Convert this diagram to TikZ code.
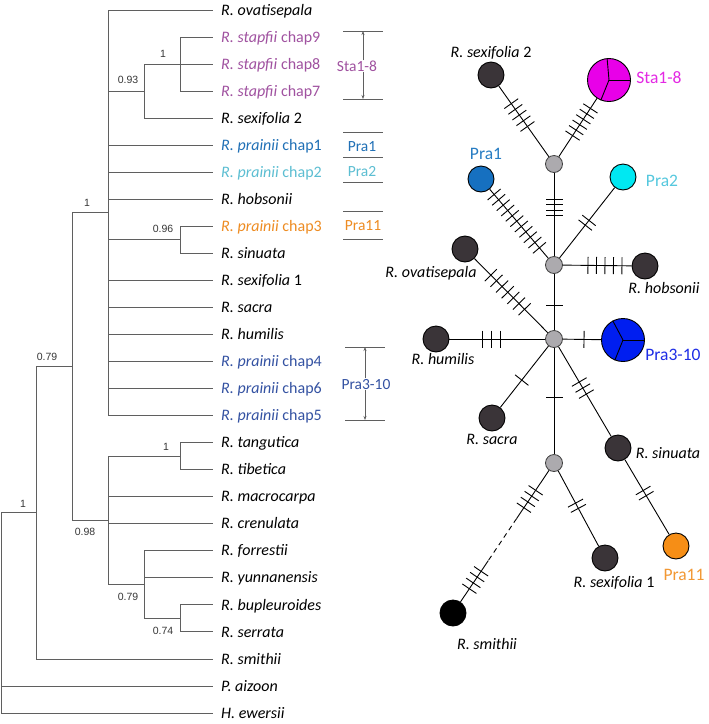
\documentclass[tikz,border=0pt]{standalone}
\usepackage{fontspec}
\setmainfont{Carlito}
\newfontfamily\suppfont{Liberation Sans}
\usetikzlibrary{calc,arrows.meta}
\definecolor{treegray}{RGB}{95,95,95}
\definecolor{suppgray}{RGB}{55,55,55}
\definecolor{stacol}{RGB}{160,82,160}
\definecolor{pone}{RGB}{32,112,182}
\definecolor{ptwo}{RGB}{92,190,210}
\definecolor{pthree}{RGB}{238,140,34}
\definecolor{pfour}{RGB}{52,82,162}
\definecolor{hapdark}{RGB}{58,52,56}
\definecolor{medgray}{RGB}{172,170,174}
\definecolor{stafill}{RGB}{232,0,232}
\definecolor{stalbl}{RGB}{228,40,228}
\definecolor{ponefill}{RGB}{22,112,192}
\definecolor{ponelbl}{RGB}{40,125,195}
\definecolor{ptwofill}{RGB}{0,232,242}
\definecolor{ptwolbl}{RGB}{85,200,222}
\definecolor{pbigfill}{RGB}{0,30,240}
\definecolor{pbiglbl}{RGB}{30,45,230}
\definecolor{pelevfill}{RGB}{246,142,22}
\definecolor{pelevlbl}{RGB}{242,152,52}
\newcommand\hashes[5]{%
  \coordinate (hc) at ($(#1)!#3!(#2)$);
  \foreach \k in {1,...,#4}{
    \pgfmathsetmacro\hoff{(\k-(#4+1)/2)*#5}
    \coordinate (ht) at ($(hc)!\hoff pt!(#2)$);
    \draw[tickline] ($(ht)!8.5pt!90:(#2)$) -- ($(ht)!8.5pt!-90:(#2)$);
  }%
}
\begin{document}
\begin{tikzpicture}[x=1pt,y=-1pt,
  leaf/.style={anchor=west,inner sep=0pt,font=\fontsize{16}{19}\selectfont,text height=10.8pt,text depth=0.5pt},
  branch/.style={draw=treegray,line width=0.9pt},
  supp/.style={font=\suppfont\fontsize{10.5}{12}\selectfont,text=suppgray,inner sep=0pt},
  brk/.style={draw=treegray,line width=0.9pt},
  brkarrow/.style={draw=treegray,line width=0.6pt,-{Stealth[length=4pt,width=3pt]}},
  brklbl/.style={inner sep=0pt,font=\fontsize{15.5}{18}\selectfont,text height=10.5pt,text depth=0.5pt},
  hap/.style={circle,draw=black,line width=0.9pt,fill=hapdark,minimum size=26pt,inner sep=0pt},
  med/.style={circle,draw=black!75,line width=0.8pt,fill=medgray,minimum size=17pt,inner sep=0pt},
  big/.style={hap,minimum size=43pt},
  edge/.style={draw=black,line width=0.9pt},
  tickline/.style={draw=black,line width=0.9pt},
  netlbl/.style={inner sep=0pt,font=\fontsize{16}{19}\selectfont,text height=10.8pt,text depth=0.5pt},
  grplbl/.style={inner sep=0pt,font=\fontsize{17.5}{20}\selectfont,text height=12pt,text depth=0.5pt}]
\useasboundingbox (0,0) rectangle (709,724);
\fill[white] (0,0) rectangle (709,724);
% ---------------- tree leaves
\node[leaf] (l0) at (221,10) {\textit{R. ovatisepala}};
\node[leaf,text=stacol] (l1) at (221,37.04) {\textit{R. stapfii} chap9};
\node[leaf,text=stacol] (l2) at (221,64.08) {\textit{R. stapfii} chap8};
\node[leaf,text=stacol] (l3) at (221,91.12) {\textit{R. stapfii} chap7};
\node[leaf] (l4) at (221,118.16) {\textit{R. sexifolia} 2};
\node[leaf,text=pone] (l5) at (221,145.2) {\textit{R. prainii} chap1};
\node[leaf,text=ptwo] (l6) at (221,172.24) {\textit{R. prainii} chap2};
\node[leaf] (l7) at (221,199.28) {\textit{R. hobsonii}};
\node[leaf,text=pthree] (l8) at (221,226.32) {\textit{R. prainii} chap3};
\node[leaf] (l9) at (221,253.36) {\textit{R. sinuata}};
\node[leaf] (l10) at (221,280.4) {\textit{R. sexifolia} 1};
\node[leaf] (l11) at (221,307.44) {\textit{R. sacra}};
\node[leaf] (l12) at (221,334.48) {\textit{R. humilis}};
\node[leaf,text=pfour] (l13) at (221,361.52) {\textit{R. prainii} chap4};
\node[leaf,text=pfour] (l14) at (221,388.56) {\textit{R. prainii} chap6};
\node[leaf,text=pfour] (l15) at (221,415.6) {\textit{R. prainii} chap5};
\node[leaf] (l16) at (221,442.64) {\textit{R. tangutica}};
\node[leaf] (l17) at (221,469.68) {\textit{R. tibetica}};
\node[leaf] (l18) at (221,496.72) {\textit{R. macrocarpa}};
\node[leaf] (l19) at (221,523.76) {\textit{R. crenulata}};
\node[leaf] (l20) at (221,550.8) {\textit{R. forrestii}};
\node[leaf] (l21) at (221,577.84) {\textit{R. yunnanensis}};
\node[leaf] (l22) at (221,604.88) {\textit{R. bupleuroides}};
\node[leaf] (l23) at (221,631.92) {\textit{R. serrata}};
\node[leaf] (l24) at (221,658.96) {\textit{R. smithii}};
\node[leaf] (l25) at (221,686) {\textit{P. aizoon}};
\node[leaf] (l26) at (221,713.04) {\textit{H. ewersii}};
% ---------------- internal nodes
\coordinate (nF) at (180,64.08);
\coordinate (nD) at (144,91.12);
\coordinate (nE) at (180,239.84);
\coordinate (nC) at (108,212.8);
\coordinate (nH) at (180,456.16);
\coordinate (nJ) at (180,618.4);
\coordinate (nI) at (144,584.6);
\coordinate (nG) at (108,520.38);
\coordinate (nB) at (72,366.59);
\coordinate (nA) at (36,512.78);
\coordinate (nR) at (1,612.91);
% ---------------- branches
\draw[branch] (nF) |- ([xshift=-8pt]l1.west);
\draw[branch] (nF) |- ([xshift=-8pt]l2.west);
\draw[branch] (nF) |- ([xshift=-8pt]l3.west);
\draw[branch] (nD) |- (nF);
\draw[branch] (nD) |- ([xshift=-8pt]l4.west);
\draw[branch] (nE) |- ([xshift=-8pt]l8.west);
\draw[branch] (nE) |- ([xshift=-8pt]l9.west);
\draw[branch] (nC) |- ([xshift=-8pt]l0.west);
\draw[branch] (nC) |- (nD);
\draw[branch] (nC) |- ([xshift=-8pt]l5.west);
\draw[branch] (nC) |- ([xshift=-8pt]l6.west);
\draw[branch] (nC) |- ([xshift=-8pt]l7.west);
\draw[branch] (nC) |- (nE);
\draw[branch] (nC) |- ([xshift=-8pt]l10.west);
\draw[branch] (nC) |- ([xshift=-8pt]l11.west);
\draw[branch] (nC) |- ([xshift=-8pt]l12.west);
\draw[branch] (nC) |- ([xshift=-8pt]l13.west);
\draw[branch] (nC) |- ([xshift=-8pt]l14.west);
\draw[branch] (nC) |- ([xshift=-8pt]l15.west);
\draw[branch] (nH) |- ([xshift=-8pt]l16.west);
\draw[branch] (nH) |- ([xshift=-8pt]l17.west);
\draw[branch] (nJ) |- ([xshift=-8pt]l22.west);
\draw[branch] (nJ) |- ([xshift=-8pt]l23.west);
\draw[branch] (nI) |- ([xshift=-8pt]l20.west);
\draw[branch] (nI) |- ([xshift=-8pt]l21.west);
\draw[branch] (nI) |- (nJ);
\draw[branch] (nG) |- (nH);
\draw[branch] (nG) |- ([xshift=-8pt]l18.west);
\draw[branch] (nG) |- ([xshift=-8pt]l19.west);
\draw[branch] (nG) |- (nI);
\draw[branch] (nB) |- (nC);
\draw[branch] (nB) |- (nG);
\draw[branch] (nA) |- (nB);
\draw[branch] (nA) |- ([xshift=-8pt]l24.west);
\draw[branch] (nR) |- (nA);
\draw[branch] (nR) |- ([xshift=-8pt]l25.west);
\draw[branch] (nR) |- ([xshift=-8pt]l26.west);
% ---------------- support values
\node[supp] (sF) at (163,54) {1};
\node[supp] (sD) at (128,80) {0.93};
\node[supp] (sE) at (163,229) {0.96};
\node[supp] (sC) at (87,203) {1};
\node[supp] (sH) at (166,447) {1};
\node[supp] (sG) at (85,532) {0.98};
\node[supp] (sI) at (128,597) {0.79};
\node[supp] (sJ) at (163,631) {0.74};
\node[supp] (sB) at (47,357) {0.79};
\node[supp] (sA) at (23,504) {1};
% ---------------- brackets
\draw[brk] (343,31) -- (383,31);
\draw[brk] (343,99) -- (383,99);
\node[brklbl,text=stacol] (bSta) at (357,66) {Sta1-8};
\coordinate (bStaT) at (363,31);
\coordinate (bStaB) at (363,99);
\draw[brkarrow] (bSta.north -| bStaT) -- (bStaT);
\draw[brkarrow] (bSta.south -| bStaB) -- (bStaB);
\draw[brk] (343,132) -- (383,132);
\draw[brk] (343,157) -- (383,157);
\draw[brk] (343,182) -- (383,182);
\node[brklbl,text=pone] (bP1) at (362,146) {Pra1};
\node[brklbl,text=ptwo] (bP2) at (362,171) {Pra2};
\draw[brk] (343,211) -- (383,211);
\draw[brk] (343,239) -- (383,239);
\node[brklbl,text=pthree] (bP11) at (363,225) {Pra11};
\draw[brk] (345,347) -- (385,347);
\draw[brk] (345,420) -- (385,420);
\node[brklbl,text=pfour] (bP3) at (366,384) {Pra3-10};
\coordinate (bP3T) at (365,347);
\coordinate (bP3B) at (365,420);
\draw[brkarrow] (bP3.north -| bP3T) -- (bP3T);
\draw[brkarrow] (bP3.south -| bP3B) -- (bP3B);
% ---------------- network nodes
\node[hap] (sx2) at (491,75) {};
\node[big,fill=stafill] (sta) at (609,80) {};
\node[med] (mtop) at (554,164) {};
\node[hap,fill=ponefill] (pra1) at (481,179) {};
\node[hap,fill=ptwofill] (pra2) at (623,177) {};
\node[hap] (ova) at (465,249) {};
\node[med] (mmid) at (554,265) {};
\node[hap] (hob) at (645,266) {};
\node[med] (mcen) at (554,339) {};
\node[hap] (hum) at (436,339) {};
\node[big,fill=pbigfill] (pbig) at (623,340) {};
\node[hap] (sac) at (492,418) {};
\node[hap] (sin) at (618,448) {};
\node[med] (mbot) at (554,463) {};
\node[hap,fill=black] (smi) at (453,613) {};
\node[hap] (sx1) at (605,558) {};
\node[hap,fill=pelevfill] (p11) at (676,546) {};
% sectors
\draw[edge] (sta.center) -- (sta.95);
\draw[edge] (sta.center) -- (sta.0);
\draw[edge] (sta.center) -- (sta.248);
\draw[edge] (pbig.center) -- (pbig.118);
\draw[edge] (pbig.center) -- (pbig.0);
\draw[edge] (pbig.center) -- (pbig.248);
% ---------------- network edges
\draw[edge] (sx2) -- (mtop);
\draw[edge] (sta) -- (mtop);
\draw[edge] (mtop) -- (mmid);
\draw[edge] (pra1) -- (mmid);
\draw[edge] (pra2) -- (mmid);
\draw[edge] (hob) -- (mmid);
\draw[edge] (mmid) -- (mcen);
\draw[edge] (ova) -- (mcen);
\draw[edge] (hum) -- (mcen);
\draw[edge] (pbig) -- (mcen);
\draw[edge] (sac) -- (mcen);
\draw[edge] (mcen) -- (mbot);
\draw[edge] (mcen) -- (sin);
\draw[edge] (sin) -- (p11);
\draw[edge] (mbot) -- (sx1);
\coordinate (dA) at ($(mbot)!0.37!(smi)$);
\coordinate (dB) at ($(mbot)!0.65!(smi)$);
\draw[edge] (mbot) -- (dA);
\draw[edge,dash pattern=on 5pt off 4pt] (dA) -- (dB);
\draw[edge] (dB) -- (smi);
% ---------------- mutation ticks
\hashes{sx2}{mtop}{0.45}{5}{7}
\hashes{sta}{mtop}{0.5}{6}{6.5}
\hashes{mtop}{mmid}{0.43}{4}{5.5}
\hashes{pra1}{mmid}{0.49}{11}{7}
\hashes{pra2}{mmid}{0.52}{2}{6}
\hashes{hob}{mmid}{0.44}{5}{8.5}
\hashes{mmid}{mcen}{0.55}{1}{0}
\hashes{ova}{mcen}{0.48}{7}{8}
\hashes{hum}{mcen}{0.47}{3}{9}
\hashes{pbig}{mcen}{0.565}{1}{0}
\hashes{sac}{mcen}{0.48}{1}{0}
\hashes{mcen}{mbot}{0.47}{1}{0}
\hashes{mcen}{sin}{0.45}{3}{7}
\hashes{sin}{p11}{0.46}{2}{6}
\hashes{mbot}{sx1}{0.45}{2}{6}
\hashes{mbot}{smi}{0.24}{4}{7}
\hashes{mbot}{smi}{0.78}{4}{7}
% ---------------- network labels
\node[netlbl] (tsx2) at (491,52) {\textit{R. sexifolia} 2};
\node[netlbl] (tova) at (431,272) {\textit{R. ovatisepala}};
\node[netlbl] (thob) at (664,288) {\textit{R. hobsonii}};
\node[netlbl] (thum) at (443,359) {\textit{R. humilis}};
\node[netlbl] (tsac) at (492,439) {\textit{R. sacra}};
\node[netlbl] (tsin) at (668,453) {\textit{R. sinuata}};
\node[netlbl] (tsx1) at (614,582) {\textit{R. sexifolia} 1};
\node[netlbl] (tsmi) at (487,644) {\textit{R. smithii}};
\node[grplbl,text=stalbl] (tsta) at (659,78) {Sta1-8};
\node[grplbl,text=ponelbl] (tpra1) at (486,154) {Pra1};
\node[grplbl,text=ptwolbl] (tpra2) at (662,181) {Pra2};
\node[grplbl,text=pbiglbl] (tpbig) at (673,355) {Pra3-10};
\node[grplbl,text=pelevlbl] (tp11) at (684,575) {Pra11};
\end{tikzpicture}
\end{document}
